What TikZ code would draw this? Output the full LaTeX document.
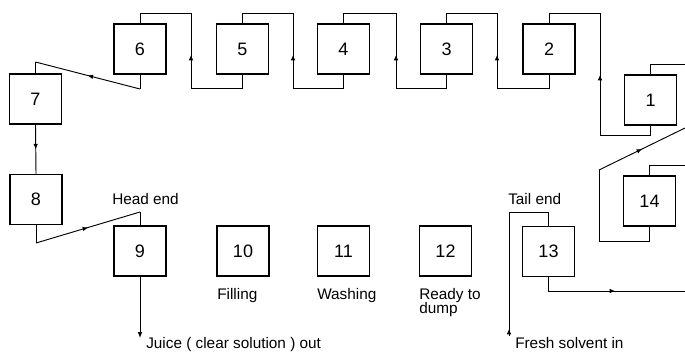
\documentclass[tikz,border=0pt]{standalone}
\usepackage{fontspec}
\setmainfont{Liberation Sans}
\usetikzlibrary{decorations.markings,arrows.meta}
\tikzset{
  tank/.style={draw, line width=1.1pt, minimum width=39pt, minimum height=37.5pt, inner sep=0pt, font=\fontsize{13.5}{14}\selectfont},
  pipe/.style={line width=0.7pt},
  lbl/.style={font=\fontsize{11.5}{10.5}\selectfont, inner sep=0pt},
  flow/.style={pipe, postaction={decorate}, decoration={markings, mark=at position #1 with {\arrow{Latex[length=4pt,width=3.5pt]}}}},
  flowtip/.style={pipe, -{Latex[length=4.5pt,width=3.5pt]}}
}
\begin{document}
\begin{tikzpicture}[x=0.75pt,y=-0.75pt]
\useasboundingbox (0,0) rectangle (685,353);
% tanks
\node[tank] (b6) at (140,49) {6};
\node[tank] (b5) at (242.5,49) {5};
\node[tank] (b4) at (343.5,49) {4};
\node[tank] (b3) at (446.5,49) {3};
\node[tank] (b2) at (549,49) {2};
\node[tank] (b1) at (650.5,100) {1};
\node[tank] (b14) at (649.5,201) {14};
\node[tank] (b13) at (548.5,251.5) {13};
\node[tank] (b12) at (445.5,251) {12};
\node[tank] (b11) at (343.5,251) {11};
\node[tank] (b10) at (243,251) {10};
\node[tank] (b9) at (140,251) {9};
\node[tank] (b8) at (36,199.5) {8};
\node[tank] (b7) at (35.5,99) {7};
% coordinates
\coordinate (e1) at (685,64);
\coordinate (e14) at (685,165);
\coordinate (e13) at (685,291);
\coordinate (ed) at (685,128);
\coordinate (jout) at (140,338);
\coordinate (fin) at (509,336);
% 1 -> 2
\draw[pipe] (b1.north) |- (e1);
\draw[pipe] (b1.south) -- (650.5,135) -- (600,135) -- (600,90);
\draw[flow=1] (600,90) -- (600,75);
\draw[pipe] (600,75) -- (600,13) -| (b2.north);
% 2 -> 3
\draw[pipe] (b2.south) -- (549,88) -| (497,60);
\draw[flow=1] (497,70) -- (497,55);
\draw[pipe] (497,55) -- (497,13) -| (b3.north);
% 3 -> 4
\draw[pipe] (b3.south) -- (446.5,88) -| (396,60);
\draw[flow=1] (396,70) -- (396,55);
\draw[pipe] (396,55) -- (396,13) -| (b4.north);
% 4 -> 5
\draw[pipe] (b4.south) -- (343.5,88) -| (293,60);
\draw[flow=1] (293,70) -- (293,55);
\draw[pipe] (293,55) -- (293,13) -| (b5.north);
% 5 -> 6
\draw[pipe] (b5.south) -- (242.5,88) -| (191,60);
\draw[flow=1] (191,70) -- (191,55);
\draw[pipe] (191,55) -- (191,13) -| (b6.north);
% 6 -> 7
\draw[pipe] (b6.south) -- (140,89) coordinate (d6);
\draw[flow=0.5] (d6) -- (35.5,62) coordinate (d7);
\draw[pipe] (d7) -- (b7.north);
% 7 -> 8
\draw[flow=0.5] (b7.south) -- (b8.north);
% 8 -> 9
\draw[pipe] (b8.south) -- (36,243) coordinate (d8);
\draw[flow=0.5] (d8) -- (140,212) coordinate (d9);
\draw[pipe] (d9) -- (b9.north);
% 9 out
\draw[flowtip] (b9.south) -- (jout);
% fresh solvent in -> 13
\draw[flow=1] (fin) -- (509,329) coordinate (f2);
\draw[pipe] (f2) -- (509,212) -| (b13.north);
% 13 -> out
\draw[pipe] (b13.south) |- (575,291);
\draw[flow=0.5] (575,291) -- (655,291);
\draw[pipe] (655,291) -- (e13);
% 14
\draw[pipe] (b14.north) |- (e14);
\draw[pipe] (b14.south) -- (649.5,241) -- (599,241) -- (599,170) coordinate (d14);
\draw[flow=0.5] (d14) -- (ed);
% labels
\node[lbl, anchor=base west] (he) at (112,204) {Head end};
\node[lbl, anchor=base west] (te) at (508,204) {Tail end};
\node[lbl, anchor=base west] (fl) at (217,299) {Filling};
\node[lbl, anchor=base west] (wa) at (317,299) {Washing};
\node[lbl, anchor=base west] (rd) at (419,299) {Ready to};
\node[lbl, anchor=base west] (du) at (419,313) {dump};
\node[lbl, anchor=base west] (ju) at (146,348) {Juice ( clear solution ) out};
\node[lbl, anchor=base west] (fr) at (515,348) {Fresh solvent in};
\end{tikzpicture}
\end{document}
